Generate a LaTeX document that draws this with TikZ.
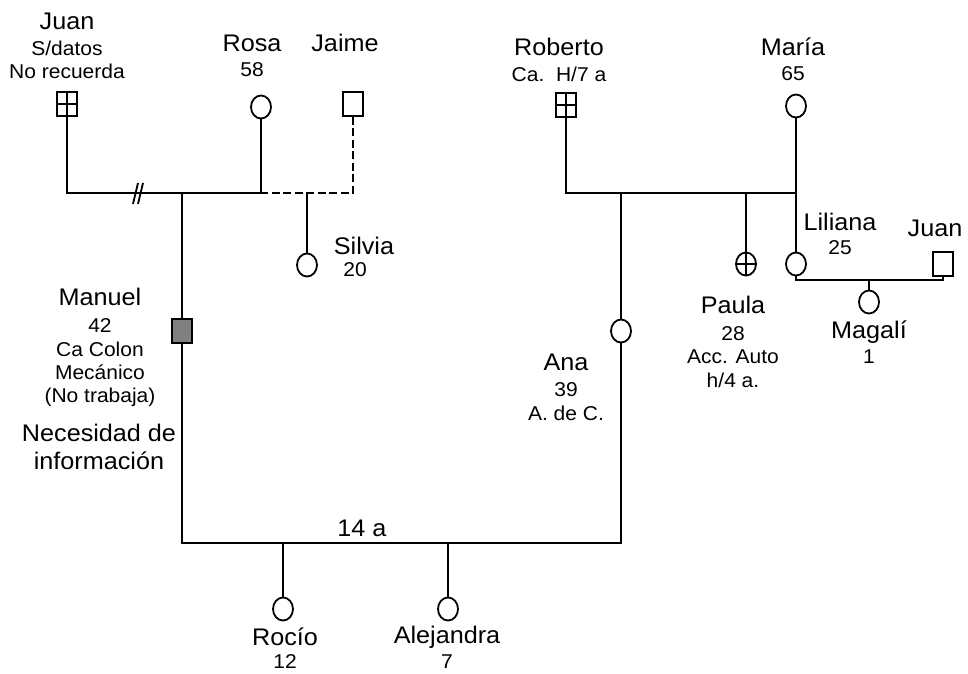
\documentclass[tikz,border=0pt]{standalone}
\usepackage{fontspec}
\setmainfont{Liberation Sans}[FakeStretch=1.05]
\usetikzlibrary{shapes,positioning,calc}

\tikzset{
  hombre/.style={draw,rectangle,minimum width=20pt,minimum height=24pt,inner sep=0pt,line width=1.8pt},
  mujer/.style={draw,ellipse,minimum width=20pt,minimum height=23pt,inner sep=0pt,line width=1.8pt},
  fallecido/.style={path picture={\draw[line width=1.5pt] (path picture bounding box.north) -- (path picture bounding box.south)
      (path picture bounding box.west) -- (path picture bounding box.east);}},
  enfermo/.style={fill=black!50},
  nombre/.style={font=\fontsize{24}{28}\selectfont,inner sep=0pt,align=center},
  dato/.style={font=\fontsize{20}{23.3}\selectfont,inner sep=0pt,align=center},
  lazo/.style={line width=1.8pt},
  separado/.style={line width=1.8pt,dash pattern=on 8pt off 3.5pt}
}

\begin{document}
\begin{tikzpicture}[x=1pt,y=-1pt]
    \useasboundingbox (0,0) rectangle (968,673);

    % Abuelos paternos
    \node[hombre,fallecido] (juanA) at (67,104) {};
    \node[mujer] (rosa) at (261,107) {};
    \node[hombre] (jaime) at (353,104) {};
    \node[nombre] (tJuanA) at (67,21) {Juan};
    \node[dato] (dJuanA) at (67,60) {S/datos\\No recuerda};
    \node[nombre] (tRosa) at (252,43) {Rosa};
    \node[dato] (dRosa) at (252,70) {58};
    \node[nombre] (tJaime) at (345,43) {Jaime};

    % Abuelos maternos
    \node[hombre,fallecido] (roberto) at (566,105) {};
    \node[mujer] (maria) at (796,106) {};
    \node[nombre] (tRoberto) at (559,47) {Roberto};
    \node[dato] (dRoberto) at (559,74) {Ca.\ \ H/7 a};
    \node[nombre] (tMaria) at (793,47) {María};
    \node[dato] (dMaria) at (793,74) {65};

    % Hijos
    \node[mujer] (silvia) at (307,265) {};
    \node[nombre] (tSilvia) at (364,246) {Silvia};
    \node[dato] (dSilvia) at (355,270) {20};
    \node[hombre,enfermo] (manuel) at (182,331) {};
    \node[nombre] (tManuel) at (100,297) {Manuel};
    \node[dato] (dManuel) at (100,363) {42\\Ca Colon\\Mecánico\\(No trabaja)};
    \node[nombre] (tNecesidad) at (99,447) {Necesidad de\\información};
    \node[mujer] (ana) at (621,331) {};
    \node[nombre] (tAna) at (566,362) {Ana};
    \node[dato] (dAna) at (566,401.5) {39\\A. de C.};
    \node[mujer,fallecido] (paula) at (746,264) {};
    \node[nombre] (tPaula) at (733,305) {Paula};
    \node[dato] (dPaula) at (733,357) {28\\Acc. Auto\\h/4 a.};
    \node[mujer] (liliana) at (796,264) {};
    \node[nombre] (tLiliana) at (840,222) {Liliana};
    \node[dato] (dLiliana) at (840,248) {25};
    \node[hombre] (juanB) at (943,264) {};
    \node[nombre] (tJuanB) at (935,228) {Juan};

    % Nietos
    \node[mujer] (magali) at (869,302) {};
    \node[nombre] (tMagali) at (869,332) {Magalí};
    \node[dato] (dMagali) at (869,357) {1};
    \node[mujer] (rocio) at (283,609) {};
    \node[nombre] (tRocio) at (285,637) {Rocío};
    \node[dato] (dRocio) at (285,662) {12};
    \node[mujer] (alejandra) at (448,609) {};
    \node[nombre] (tAlejandra) at (447,637) {Alejandra};
    \node[dato] (dAlejandra) at (447,662) {7};

    % Puntos de union
    \coordinate (u1a) at (67,193);
    \coordinate (u1b) at (261,193);
    \coordinate (u2b) at (353,193);
    \coordinate (h1) at (182,193);
    \coordinate (h2) at (307,193);
    \coordinate (u3a) at (182,543);
    \coordinate (u3b) at (621,543);
    \coordinate (h3) at (283,543);
    \coordinate (h4) at (448,543);
    \coordinate (u4a) at (566,193);
    \coordinate (u4b) at (796,193);
    \coordinate (h5) at (621,193);
    \coordinate (h6) at (746,193);
    \coordinate (u5a) at (796,280);
    \coordinate (u5b) at (943,280);
    \coordinate (h7) at (869,280);

    % Lineas
    \draw[lazo] (juanA) -- (u1a) -- (u1b) -- (rosa);
    \draw[lazo] (133,204) -- (138,183) (138,204) -- (143,183);
    \draw[separado] (jaime) -- (u2b) -- (u1b);
    \draw[lazo] (h2) -- (silvia);
    \draw[lazo] (h1) -- (manuel) -- (u3a) -- (u3b) -- (ana) -- (h5);
    \node[nombre] (tUnion) at (362,528) {14 a};
    \draw[lazo] (h3) -- (rocio);
    \draw[lazo] (h4) -- (alejandra);
    \draw[lazo] (roberto) -- (u4a) -- (u4b) -- (maria);
    \draw[lazo] (u4b) -- (liliana);
    \draw[lazo] (h6) -- (paula);
    \draw[lazo] (liliana) -- (u5a) -- (u5b) -- (juanB);
    \draw[lazo] (h7) -- (magali);
\end{tikzpicture}
\end{document}
